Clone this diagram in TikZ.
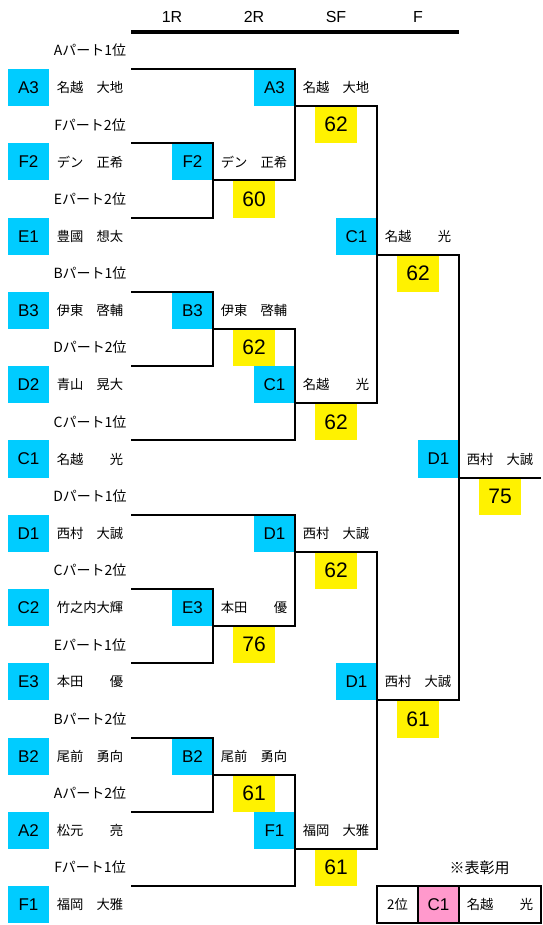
\documentclass[tikz,border=0pt]{standalone}
\usepackage{fontspec}
\setmainfont{Liberation Sans}
\newfontfamily\jpf{Noto Sans CJK JP}
\definecolor{boxblue}{RGB}{0,204,255}
\definecolor{scoreyel}{RGB}{255,242,0}
\definecolor{awardpink}{RGB}{255,153,204}
\newcommand\mycx[1]{8+41*#1}
\newcommand\myrt[1]{31.9+37.14*#1}
\newcommand\myrc[1]{50.47+37.14*#1}
\begin{document}
\begin{tikzpicture}[x=1pt,y=-1pt,
  seedbox/.style={fill=boxblue, minimum width=41pt, minimum height=37.14pt, inner sep=0pt, font=\fontsize{17}{17}\selectfont},
  pname/.style={font=\jpf\fontsize{13.3}{13.3}\selectfont, inner sep=0pt},
  plabel/.style={font=\jpf\fontsize{14}{14}\selectfont, inner sep=0pt},
  scorebox/.style={fill=scoreyel, minimum width=42pt, minimum height=37.14pt, inner sep=0pt, font=\fontsize{21}{21}\selectfont},
  hdr/.style={font=\fontsize{16}{16}\selectfont, inner sep=0pt},
  bline/.style={line width=2pt, line join=miter},
  awcell/.style={draw, line width=2pt, minimum height=37.14pt, inner sep=0pt}
]
\useasboundingbox (0,0) rectangle (542,925);
% grid coordinates
\foreach \j in {3,5,7,9,11,13}{
  \foreach \r in {0,...,23}{
    \coordinate (p\j-\r) at (\mycx{\j},\myrt{\r});
  }
}
% headers
\node[hdr] (h1) at (172,17) {1R};
\node[hdr] (h2) at (254,17) {2R};
\node[hdr] (h3) at (336,17) {SF};
\node[hdr] (h4) at (418,17) {F};
% part labels
\foreach \r/\vt [count=\i] in {0/Aパート1位,2/Fパート2位,4/Eパート2位,6/Bパート1位,8/Dパート2位,10/Cパート1位,12/Dパート1位,14/Cパート2位,16/Eパート1位,18/Bパート2位,20/Aパート2位,22/Fパート1位}{
  \node[plabel] (lab\i) at (90,\myrc{\r}) {\vt};
}
% entrants
\foreach \r/\vcode/\vname in {1/A3/名越　大地,3/F2/デン　正希,5/E1/豊國　想太,7/B3/伊東　啓輔,9/D2/青山　晃大,11/C1/名越　　光,13/D1/西村　大誠,15/C2/竹之内大輝,17/E3/本田　　優,19/B2/尾前　勇向,21/A2/松元　　亮,23/F1/福岡　大雅}{
  \node[seedbox] (s\vcode) at (28.5,\myrc{\r}) {\vcode};
  \node[pname] (n\vcode) at (90,\myrc{\r}) {\vname};
}
% winners and scores
\foreach \vid/\j/\r/\vcode/\vname/\vscore in {r1a/4/3/F2/デン　正希/60,r1b/4/7/B3/伊東　啓輔/62,r1c/4/15/E3/本田　　優/76,r1d/4/19/B2/尾前　勇向/61,r2a/6/1/A3/名越　大地/62,r2b/6/9/C1/名越　　光/62,r2c/6/13/D1/西村　大誠/62,r2d/6/21/F1/福岡　大雅/61,sfa/8/5/C1/名越　　光/62,sfb/8/17/D1/西村　大誠/61,fin/10/11/D1/西村　大誠/75}{
  \node[scorebox] (sc-\vid) at ({\mycx{\j}+82},{\myrc{\r}+37.14}) {\vscore};
  \node[seedbox] (b-\vid) at ({\mycx{\j}+20.5},\myrc{\r}) {\vcode};
  \node[pname] (n-\vid) at ({\mycx{\j}+82},\myrc{\r}) {\vname};
}
% bracket lines
\draw[line width=3.3pt] (p3-0) -- (p11-0);
\draw[bline] (p3-1) -- (p7-1) -- (p7-4) -- (p5-4);
\draw[bline] (p3-3) -- (p5-3) -- (p5-5) -- (p3-5);
\draw[bline] (p3-7) -- (p5-7) -- (p5-9) -- (p3-9);
\draw[bline] (p5-8) -- (p7-8) -- (p7-11) -- (p3-11);
\draw[bline] (p7-2) -- (p9-2) -- (p9-10) -- (p7-10);
\draw[bline] (p3-13) -- (p7-13) -- (p7-16) -- (p5-16);
\draw[bline] (p3-15) -- (p5-15) -- (p5-17) -- (p3-17);
\draw[bline] (p3-19) -- (p5-19) -- (p5-21) -- (p3-21);
\draw[bline] (p5-20) -- (p7-20) -- (p7-23) -- (p3-23);
\draw[bline] (p7-14) -- (p9-14) -- (p9-22) -- (p7-22);
\draw[bline] (p9-6) -- (p11-6) -- (p11-18) -- (p9-18);
\draw[bline] (p11-12) -- (p13-12);
% award
\node[font=\jpf\fontsize{15}{15}\selectfont, inner sep=0pt] (awtitle) at (479.5,\myrc{22}) {※表彰用};
\node[awcell, minimum width=41pt, font=\jpf\fontsize{13.3}{13.3}\selectfont] (awrank) at ({\mycx{9}+20.5},\myrc{23}) {2位};
\node[awcell, minimum width=41pt, fill=awardpink, font=\fontsize{17}{17}\selectfont] (awseed) at ({\mycx{10}+20.5},\myrc{23}) {C1};
\node[awcell, minimum width=82pt, font=\jpf\fontsize{13.3}{13.3}\selectfont] (awname) at ({\mycx{11}+41},\myrc{23}) {名越　　光};
\end{tikzpicture}
\end{document}
